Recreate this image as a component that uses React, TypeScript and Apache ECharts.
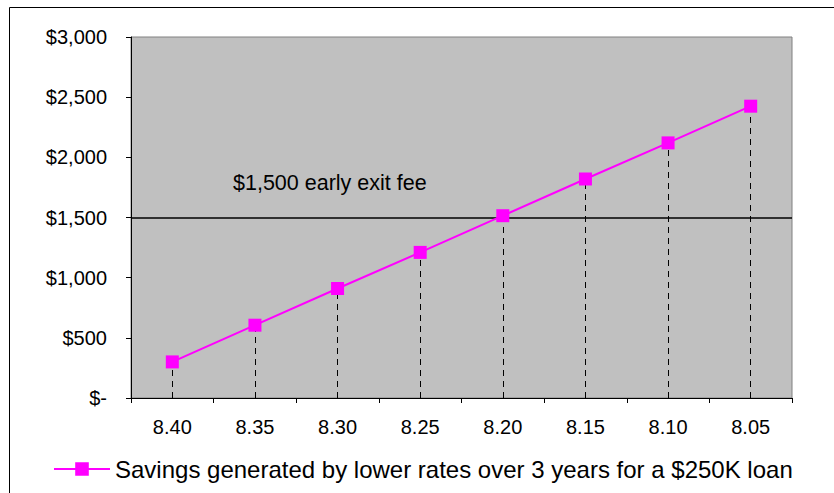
import React, { useEffect, useRef } from "react";
import * as echarts from "echarts";

const categories = ["8.40", "8.35", "8.30", "8.25", "8.20", "8.15", "8.10", "8.05"];
const savings = [300, 605, 910, 1210, 1515, 1820, 2120, 2425];
const exitFee = 1500;
const yTickLabels = ["$-", "$500", "$1,000", "$1,500", "$2,000", "$2,500", "$3,000"];
const seriesName = "Savings generated by lower rates over 3 years for a $250K loan";
const feeLabel = "$1,500 early exit fee";

export default function App() {
  const ref = useRef<HTMLDivElement>(null);
  useEffect(() => {
    if (!ref.current) return;
    const chart = echarts.init(ref.current, null, { renderer: "svg" });
    const font = "Liberation Sans, Arial, sans-serif";
    chart.setOption({
      animation: false,
      backgroundColor: "#ffffff",
      textStyle: { fontFamily: font },
      grid: {
        left: 131,
        top: 37,
        width: 661,
        height: 361,
        show: true,
        backgroundColor: "#C0C0C0",
        borderColor: "#808080",
        borderWidth: 1,
      },
      legend: {
        top: 452,
        left: 48,
        itemWidth: 56,
        itemHeight: 17,
        itemGap: 4,
        textStyle: { fontSize: 24, color: "#000", fontFamily: font },
        data: [{ name: seriesName }],
      },
      xAxis: {
        type: "category",
        data: categories,
        boundaryGap: true,
        axisLine: { lineStyle: { color: "#000", width: 1 } },
        axisTick: { show: true, length: 5, lineStyle: { color: "#000" } },
        axisLabel: { color: "#000", fontSize: 20, margin: 19, fontFamily: font },
        splitLine: { show: false },
      },
      yAxis: {
        type: "value",
        min: 0,
        max: 3000,
        interval: 500,
        axisLine: { show: true, lineStyle: { color: "#000", width: 1 } },
        axisTick: { show: true, length: 5, lineStyle: { color: "#000" } },
        axisLabel: {
          color: "#000",
          fontSize: 20,
          margin: 24,
          fontFamily: font,
          formatter: (v: number) => yTickLabels[Math.round(v / 500)],
        },
        splitLine: { show: false },
      },
      series: [
        {
          name: seriesName,
          type: "line",
          data: savings,
          color: "#FF00FF",
          symbol: "rect",
          symbolSize: 13,
          lineStyle: { color: "#FF00FF", width: 2 },
          itemStyle: { color: "#FF00FF" },
          z: 5,
          markLine: {
            silent: true,
            symbol: ["none", "none"],
            label: { show: false },
            lineStyle: { color: "#000", type: [6, 5], width: 1 },
            data: savings.map((v, i) => [
              { coord: [i, 0] },
              { coord: [i, v] },
            ]),
          },
        },
        {
          name: "fee",
          type: "line",
          data: [],
          markLine: {
            silent: true,
            symbol: ["none", "none"],
            label: { show: false },
            lineStyle: { color: "#000", type: "solid", width: 1.5 },
            data: [{ yAxis: exitFee }],
          },
        },
      ],
      graphic: [
        {
          type: "rect",
          shape: { x: 9.5, y: 7.5, width: 840, height: 500 },
          style: { fill: "none", stroke: "#000", lineWidth: 1 },
          silent: true,
        },
        {
          type: "text",
          x: 233,
          y: 172,
          style: { text: feeLabel, fontSize: 21.5, fill: "#000", fontFamily: font },
        },
      ],
    });
    return () => chart.dispose();
  }, []);
  return (
    <div
      ref={ref}
      style={{ position: "absolute", left: 0, top: 0, width: 834, height: 493 }}
    />
  );
}
